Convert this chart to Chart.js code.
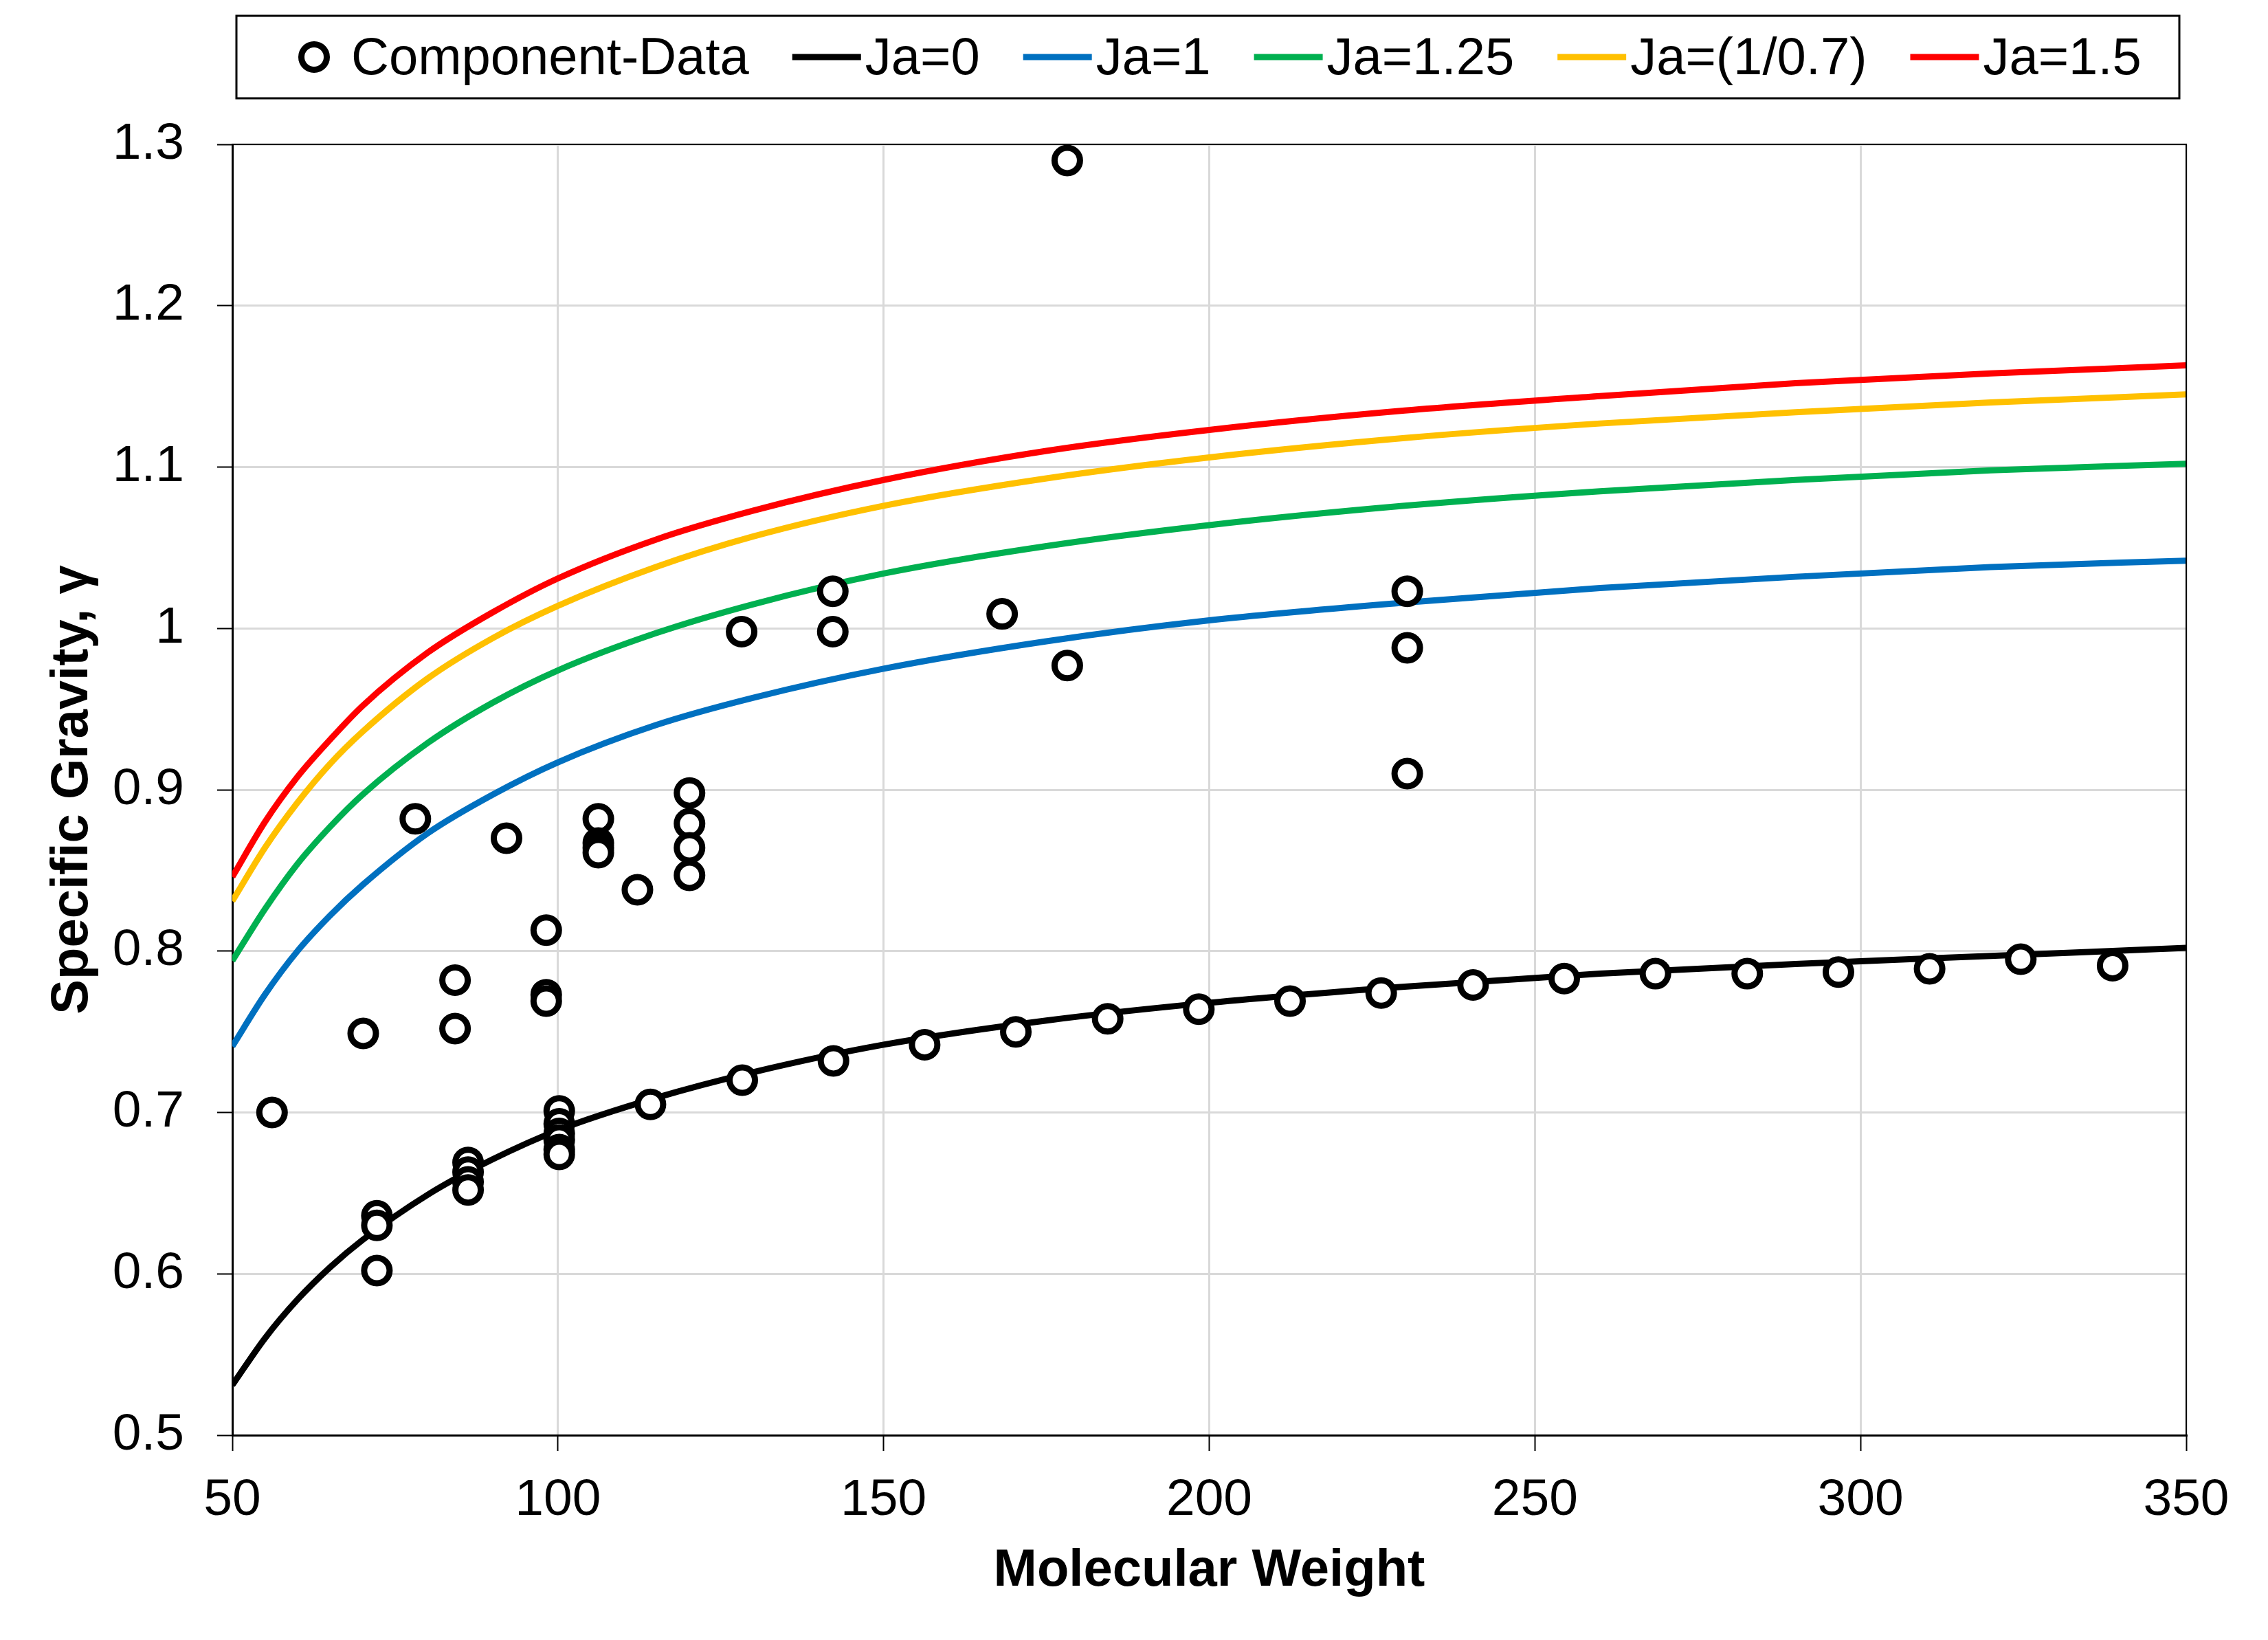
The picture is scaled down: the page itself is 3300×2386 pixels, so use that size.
<!DOCTYPE html>
<html>
<head>
<meta charset="utf-8">
<script src="https://cdn.jsdelivr.net/npm/chart.js@4.4.1/dist/chart.umd.min.js"></script>
<style>
  html, body { margin: 0; padding: 0; background: #fff; }
  #wrap { width: 3300px; height: 2386px; }
</style>
</head>
<body>
<div id="wrap"><canvas id="sgChart"></canvas></div>
<script>
// Component data: molecular weight / specific gravity
const compMW = [56.1, 70.1, 72.2, 72.2, 72.2, 78.1, 84.2, 84.2, 86.2, 86.2, 86.2, 86.2,
    92.1, 98.2, 98.2, 98.2, 100.2, 100.2, 100.2, 100.2, 100.2, 100.2,
    106.2, 106.2, 106.2, 106.2, 112.2, 114.2, 120.2, 120.2, 120.2, 120.2,
    128.2, 128.3, 142.2, 142.2, 142.3, 156.3, 168.2, 170.3, 178.2, 178.2,
    184.4, 198.4, 212.4, 226.4, 230.4, 230.4, 230.4, 240.5, 254.5, 268.5,
    282.6, 296.6, 310.6, 324.6, 338.7];
const compSG = [0.700, 0.749, 0.636, 0.630, 0.602, 0.882, 0.782, 0.752, 0.669, 0.663, 0.657, 0.652,
    0.870, 0.813, 0.773, 0.769, 0.701, 0.693, 0.687, 0.683, 0.677, 0.674,
    0.882, 0.867, 0.864, 0.861, 0.838, 0.705, 0.898, 0.879, 0.864, 0.847,
    0.998, 0.720, 1.023, 0.998, 0.732, 0.742, 1.009, 0.750, 1.290, 0.977,
    0.758, 0.764, 0.769, 0.774, 1.023, 0.988, 0.910, 0.779, 0.783, 0.786,
    0.786, 0.787, 0.789, 0.795, 0.791];

// Curves
const curveMW = [50, 55, 60, 65, 70, 80, 90, 100, 115, 130, 150, 175, 200, 230, 260, 290, 320, 350];
const ja0   = [0.531, 0.560, 0.584, 0.604, 0.621, 0.649, 0.671, 0.689, 0.709, 0.725, 0.742, 0.757, 0.768, 0.778, 0.786, 0.792, 0.797, 0.802];
const ja1   = [0.741, 0.773, 0.800, 0.822, 0.841, 0.873, 0.897, 0.917, 0.940, 0.957, 0.975, 0.992, 1.005, 1.016, 1.025, 1.032, 1.038, 1.042];
const ja125 = [0.794, 0.826, 0.854, 0.877, 0.897, 0.929, 0.954, 0.974, 0.997, 1.015, 1.034, 1.051, 1.064, 1.076, 1.085, 1.092, 1.098, 1.102];
const ja143 = [0.831, 0.864, 0.892, 0.916, 0.936, 0.969, 0.994, 1.014, 1.038, 1.057, 1.076, 1.093, 1.106, 1.118, 1.127, 1.134, 1.140, 1.145];
const ja150 = [0.846, 0.880, 0.908, 0.931, 0.952, 0.985, 1.010, 1.031, 1.055, 1.073, 1.092, 1.110, 1.123, 1.135, 1.144, 1.152, 1.158, 1.163];

const xTickLabels = ["50", "100", "150", "200", "250", "300", "350"];
const yTickLabels = ["0.5", "0.6", "0.7", "0.8", "0.9", "1", "1.1", "1.2", "1.3"];

const FONT = '"Liberation Sans", Arial, sans-serif';

function pts(xs, ys) {
    return xs.map((x, i) => ({ x: x, y: ys[i] }));
}

function curve(label, color, ys) {
    return {
        label: label,
        data: pts(curveMW, ys),
        showLine: true,
        borderColor: color,
        backgroundColor: color,
        borderWidth: 9,
        pointRadius: 0,
        cubicInterpolationMode: "monotone",
    };
}

// Legend in a frame + top/right plot border
const boxLegend = {
    id: "boxLegend",
    afterDraw(chart) {
        const ctx = chart.ctx;
        const area = chart.chartArea;
        ctx.save();
        ctx.strokeStyle = "#000";
        ctx.lineWidth = 2;
        ctx.beginPath();
        ctx.moveTo(area.left, area.top);
        ctx.lineTo(area.right, area.top);
        ctx.lineTo(area.right, area.bottom);
        ctx.stroke();

        const bx = area.left + 6, by = 23, bw = area.right - area.left - 16, bh = 120;
        ctx.lineWidth = 3;
        ctx.strokeRect(bx, by, bw, bh);

        ctx.font = "76px " + FONT;
        ctx.textBaseline = "middle";
        const cy = by + bh / 2;
        let x = area.left + 96;
        chart.data.datasets.forEach((ds) => {
            if (ds.showLine) {
                ctx.strokeStyle = ds.borderColor;
                ctx.lineWidth = 9;
                ctx.beginPath();
                ctx.moveTo(x, cy);
                ctx.lineTo(x + 100, cy);
                ctx.stroke();
                x += 106;
            } else {
                ctx.strokeStyle = ds.borderColor;
                ctx.fillStyle = "#fff";
                ctx.lineWidth = ds.pointBorderWidth;
                ctx.beginPath();
                ctx.arc(x + 23, cy, ds.pointRadius, 0, Math.PI * 2);
                ctx.fill();
                ctx.stroke();
                x += 77;
            }
            ctx.fillStyle = "#000";
            ctx.fillText(ds.label, x, cy + 4);
            x += ctx.measureText(ds.label).width + 63;
        });
        ctx.restore();
    },
};

Chart.defaults.color = "#000";
Chart.defaults.font.family = FONT;

new Chart(document.getElementById("sgChart"), {
    type: "scatter",
    data: {
        datasets: [
            {
                label: "Component-Data",
                data: pts(compMW, compSG),
                showLine: false,
                pointStyle: "circle",
                pointRadius: 18.5,
                pointBorderWidth: 9,
                pointBorderColor: "#000",
                pointBackgroundColor: "#fff",
                borderColor: "#000",
                backgroundColor: "#fff",
            },
            curve("Ja=0", "#000000", ja0),
            curve("Ja=1", "#0070C0", ja1),
            curve("Ja=1.25", "#00B050", ja125),
            curve("Ja=(1/0.7)", "#FFC000", ja143),
            curve("Ja=1.5", "#FF0000", ja150),
        ],
    },
    options: {
        responsive: true,
        maintainAspectRatio: false,
        animation: false,
        layout: { padding: { top: 210, right: 119, bottom: 0, left: 0 } },
        plugins: { legend: { display: false }, tooltip: { enabled: false } },
        scales: {
            x: {
                type: "linear",
                min: 50,
                max: 350,
                afterFit: (s) => { s.height = 298; },
                ticks: {
                    stepSize: 50,
                    padding: 27,
                    font: { size: 75 },
                    maxRotation: 0,
                    callback: (v, i) => xTickLabels[i],
                },
                grid: { color: "#d9d9d9", lineWidth: 3, tickLength: 23, tickColor: "#000", tickWidth: 2 },
                border: { color: "#000", width: 3 },
                title: {
                    display: true,
                    text: "Molecular Weight",
                    font: { size: 76, weight: "bold" },
                    padding: { top: 0, bottom: 54 },
                },
            },
            y: {
                type: "linear",
                min: 0.5,
                max: 1.3,
                afterFit: (s) => { s.width = 338; },
                ticks: {
                    stepSize: 0.1,
                    padding: 48,
                    font: { size: 75 },
                    callback: (v, i) => yTickLabels[i],
                },
                grid: { color: "#d9d9d9", lineWidth: 3, tickLength: 22, tickColor: "#000", tickWidth: 2 },
                border: { color: "#000", width: 3 },
                title: {
                    display: true,
                    text: "Specific Gravity, γ",
                    font: { size: 76, weight: "bold" },
                    padding: { top: 60, bottom: 0 },
                },
            },
        },
    },
    plugins: [boxLegend],
});
</script>
</body>
</html>
